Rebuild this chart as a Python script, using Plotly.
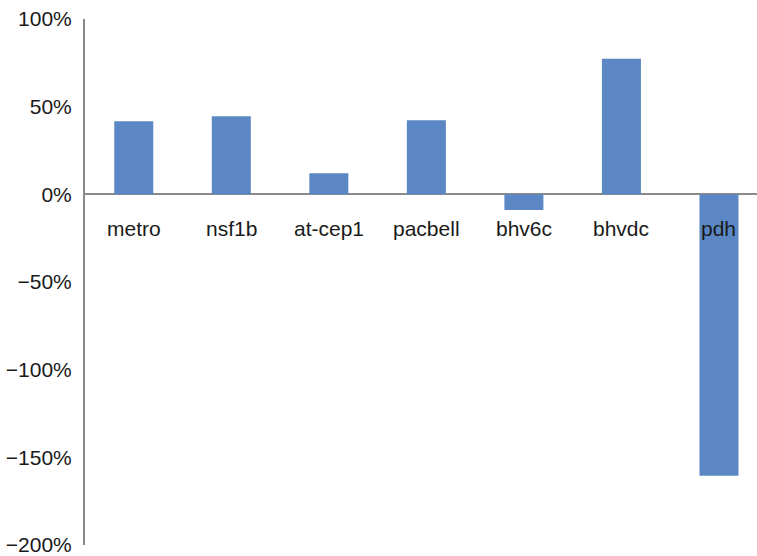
import plotly.graph_objects as go

categories = ["metro", "nsf1b", "at-cep1", "pacbell", "bhv6c", "bhvdc", "pdh"]
values = [0.417, 0.446, 0.12, 0.423, -0.09, 0.773, -1.605]
tick_vals = [-2, -1.5, -1, -0.5, 0, 0.5, 1]
tick_text = ["\u2212200%", "\u2212150%", "\u2212100%", "\u221250%", "0%", "50%", "100%"]

font_family = "Liberation Sans, Arial, Helvetica, sans-serif"

fig = go.Figure()
fig.add_trace(go.Bar(
    x=list(range(len(categories))),
    y=values,
    width=0.4,
    marker=dict(color="#5B88C4", line=dict(width=0)),
    hoverinfo="skip",
))

for i, c in enumerate(categories):
    fig.add_annotation(
        x=i, y=0, xref="x", yref="y", text=c, showarrow=False,
        yshift=-34, font=dict(family=font_family, size=21, color="#1a1a1a"),
    )

fig.update_layout(
    width=757, height=556,
    margin=dict(l=85, r=0, t=19, b=11),
    paper_bgcolor="white", plot_bgcolor="white",
    showlegend=False,
    font=dict(family=font_family, size=21, color="#1a1a1a"),
    xaxis=dict(range=[-0.5, 6.39], showticklabels=False, showline=False,
               showgrid=False, zeroline=False, ticks=""),
    yaxis=dict(range=[-2, 1], tickvals=tick_vals, ticktext=tick_text,
               showgrid=False, zeroline=True, zerolinecolor="#8a8a8a", zerolinewidth=2,
               showline=True, linecolor="#8a8a8a", linewidth=2,
               ticks="outside", ticklen=7, tickcolor="rgba(0,0,0,0)",
               ticklabeloverflow="allow",
               tickfont=dict(family=font_family, size=21, color="#1a1a1a")),
)

fig.write_html("out.html")
